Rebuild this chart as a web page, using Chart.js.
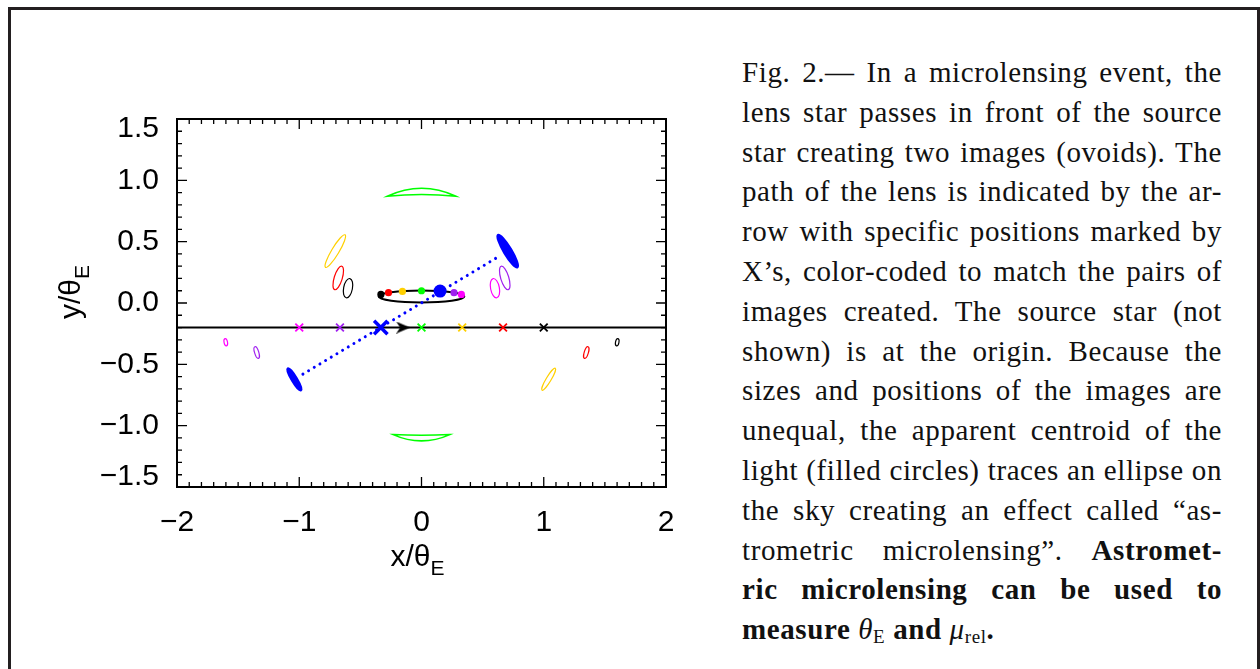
<!DOCTYPE html>
<html>
<head>
<meta charset="utf-8">
<script src="https://cdn.jsdelivr.net/npm/chart.js@4.4.1/dist/chart.umd.min.js"></script>
<style>
html, body { margin: 0; padding: 0; background: #fff; }
body { width: 1260px; height: 669px; position: relative; overflow: hidden; }
#frame { position: absolute; left: 8px; top: 7px; width: 1252px; height: 700px; box-sizing: border-box;
         border: 3px solid #231f20; border-bottom: none; }
#chartBox { position: absolute; left: 0; top: 0; width: 700px; height: 669px; }
#caption { position: absolute; left: 742px; top: 53px; width: 480px; color: #111;
           font-family: 'Liberation Serif', serif; font-size: 29px; letter-spacing: 0.6px; }
#caption div { height: 39.8px; line-height: 39.8px; white-space: nowrap;
               text-align: justify; text-align-last: justify; }
#caption div.last { text-align: left; text-align-last: left; }
#caption sub { font-size: 19px; font-weight: normal; font-style: normal; vertical-align: -4px; line-height: 0; }
#caption i { font-weight: normal; }
</style>
</head>
<body>
<div id="frame"></div>
<div id="chartBox"><canvas id="lensChart" width="700" height="669"></canvas></div>
<div id="caption">
  <div>Fig. 2.— In a microlensing event, the</div>
  <div>lens star passes in front of the source</div>
  <div>star creating two images (ovoids). The</div>
  <div>path of the lens is indicated by the ar-</div>
  <div>row with specific positions marked by</div>
  <div>X’s, color-coded to match the pairs of</div>
  <div>images created. The source star (not</div>
  <div>shown) is at the origin. Because the</div>
  <div>sizes and positions of the images are</div>
  <div>unequal, the apparent centroid of the</div>
  <div>light (filled circles) traces an ellipse on</div>
  <div>the sky creating an effect called “as-</div>
  <div>trometric microlensing”. <b>Astromet-</b></div>
  <div><b>ric microlensing can be used to</b></div>
  <div class="last"><b>measure <i>θ</i><sub>E</sub> and <i>μ</i><sub>rel</sub>.</b></div>
</div>
<script>
// lens positions along its path (one per colour), in units of theta_E
var lensX = [-1, -0.667, -0.333, 0, 0.333, 0.667, 1];
var lensY = [-0.2, -0.2, -0.2, -0.2, -0.2, -0.2, -0.2];
var lensColors = ['#ff00ff', '#a020f0', '#0000ff', '#00ff00', '#ffd000', '#ff0000', '#000000'];
var currentLens = 2; // the blue one, drawn bigger / filled

// light centroid for each lens position
var centroidX = [0.326, 0.266, 0.152, 0, -0.156, -0.27, -0.332];
var centroidY = [0.07, 0.084, 0.097, 0.1, 0.094, 0.084, 0.07];

// centroid track (ellipse): centre, semi axes
var trackCenter = [0, 0.053];
var trackAxes = [0.35, 0.048];

// the two images (ovoids) of each lens position except green
var imageLens  = [0, 1, 2, 4, 5, 6, 0, 1, 2, 4, 5, 6];
var imageX     = [0.601, 0.681, 0.705, -0.705, -0.681, -0.601, -1.601, -1.348, -1.04, 1.04, 1.348, 1.601];
var imageY     = [0.121, 0.204, 0.423, 0.423, 0.204, 0.121, -0.32, -0.404, -0.622, -0.622, -0.404, -0.32];
var imageA     = [0.08, 0.10, 0.155, 0.155, 0.10, 0.08, 0.03, 0.05, 0.105, 0.105, 0.05, 0.03];
var imageB     = [0.036, 0.033, 0.032, 0.03, 0.033, 0.036, 0.014, 0.017, 0.022, 0.02, 0.017, 0.014];
var imageAngle = [-79, -73, -59, 59, 73, 79, -79, -73, -59, 59, 73, 79];

// green images are arcs: x range, y at the tips, y of outer and inner edge at the middle
var arcX0     = [-0.28, -0.232];
var arcX1     = [0.282, 0.232];
var arcEndY   = [0.87, -1.073];
var arcOuterY = [0.935, -1.124];
var arcInnerY = [0.884, -1.078];

// lens path and the dotted line through the blue images
var pathX = [-2, 2];
var pathY = [-0.2, -0.2];
var dotX = [-0.97, 0.65];
var dotY = [-0.58, 0.39];
var arrowX = [-0.15];
var arrowY = [-0.2];

var xTicks = [-2, -1, 0, 1, 2];
var yTicks = [-1.5, -1.0, -0.5, 0.0, 0.5, 1.0, 1.5];

function pts(xs, ys) {
    return xs.map(function (v, i) { return { x: v, y: ys[i] }; });
}

function arrowHead() {
    const c = document.createElement('canvas');
    c.width = 14; c.height = 12;
    const g = c.getContext('2d');
    g.fillStyle = '#000';
    g.beginPath();
    g.moveTo(14, 6); g.lineTo(0, 0); g.lineTo(4, 6); g.lineTo(0, 12);
    g.closePath(); g.fill();
    return c;
}

function minus(v) {
    return v < 0 ? '\u2212' + Math.abs(v) : String(v);
}

const shapes = {
    id: 'shapes',
    beforeDatasetsDraw(chart) {
        const { ctx, scales } = chart;
        const x = scales.x, y = scales.y;
        const ppu = (Math.abs(x.getPixelForValue(1) - x.getPixelForValue(0)) +
                     Math.abs(y.getPixelForValue(1) - y.getPixelForValue(0))) / 2;
        ctx.save();
        // centroid track
        ctx.beginPath();
        ctx.ellipse(x.getPixelForValue(trackCenter[0]), y.getPixelForValue(trackCenter[1]),
                    trackAxes[0] * ppu, trackAxes[1] * ppu, 0, 0, 2 * Math.PI);
        ctx.strokeStyle = '#000';
        ctx.lineWidth = 2;
        ctx.stroke();
        // ovoids
        for (let i = 0; i < imageX.length; i++) {
            const col = lensColors[imageLens[i]];
            ctx.beginPath();
            ctx.ellipse(x.getPixelForValue(imageX[i]), y.getPixelForValue(imageY[i]),
                        imageA[i] * ppu, imageB[i] * ppu, -imageAngle[i] * Math.PI / 180, 0, 2 * Math.PI);
            ctx.strokeStyle = col;
            if (imageLens[i] === currentLens) {
                ctx.fillStyle = col;
                ctx.fill();
                ctx.lineWidth = 2;
            } else {
                ctx.lineWidth = 1.2;
            }
            ctx.stroke();
        }
        // green arcs
        for (let i = 0; i < arcX0.length; i++) {
            const xa = x.getPixelForValue(arcX0[i]), xb = x.getPixelForValue(arcX1[i]);
            const xm = (xa + xb) / 2;
            const ye = y.getPixelForValue(arcEndY[i]);
            const yo = 2 * y.getPixelForValue(arcOuterY[i]) - ye;
            const yi = 2 * y.getPixelForValue(arcInnerY[i]) - ye;
            ctx.beginPath();
            ctx.moveTo(xa, ye);
            ctx.quadraticCurveTo(xm, yo, xb, ye);
            ctx.quadraticCurveTo(xm, yi, xa, ye);
            ctx.closePath();
            ctx.strokeStyle = lensColors[3];
            ctx.lineWidth = 1.5;
            ctx.stroke();
        }
        ctx.restore();
    },
    afterDraw(chart) {
        const { ctx, chartArea, scales } = chart;
        const { left, right, top, bottom } = chartArea;
        const x = scales.x, y = scales.y;
        ctx.save();
        ctx.strokeStyle = '#000';
        ctx.lineWidth = 2;
        ctx.strokeRect(left, top, right - left, bottom - top);
        // inward ticks on all four sides
        ctx.lineWidth = 1.3;
        ctx.beginPath();
        for (let k = -20; k <= 20; k++) {
            const px = x.getPixelForValue(k / 10);
            const len = k % 10 === 0 ? 10 : 5;
            ctx.moveTo(px, bottom); ctx.lineTo(px, bottom - len);
            ctx.moveTo(px, top); ctx.lineTo(px, top + len);
        }
        for (let k = -15; k <= 15; k++) {
            const py = y.getPixelForValue(k / 10);
            const len = k % 5 === 0 ? 10 : 5;
            ctx.moveTo(left, py); ctx.lineTo(left + len, py);
            ctx.moveTo(right, py); ctx.lineTo(right - len, py);
        }
        ctx.stroke();
        // axis titles
        ctx.fillStyle = '#000';
        ctx.textBaseline = 'alphabetic';
        const main = 'x/\u03b8';
        ctx.font = '30px "Liberation Sans", Arial, sans-serif';
        const wMain = ctx.measureText(main).width;
        ctx.font = '21px "Liberation Sans", Arial, sans-serif';
        const wSub = ctx.measureText('E').width;
        let sx = (left + right) / 2 - 4 - (wMain + wSub) / 2;
        ctx.font = '30px "Liberation Sans", Arial, sans-serif';
        ctx.fillText(main, sx, 566);
        ctx.font = '21px "Liberation Sans", Arial, sans-serif';
        ctx.fillText('E', sx + wMain, 575);
        // y title, rotated
        ctx.translate(80, 292);
        ctx.rotate(-Math.PI / 2);
        ctx.font = '30px "Liberation Sans", Arial, sans-serif';
        const yMain = 'y/\u03b8';
        const wy = ctx.measureText(yMain).width;
        sx = -(wy + wSub) / 2;
        ctx.fillText(yMain, sx, 0);
        ctx.font = '21px "Liberation Sans", Arial, sans-serif';
        ctx.fillText('E', sx + wy, 9);
        ctx.restore();
    }
};

const config = {
    type: 'scatter',
    data: {
        datasets: [{
            data: pts(centroidX, centroidY),
            pointStyle: 'circle',
            pointRadius: centroidX.map(function (v, i) { return i === currentLens ? 6.5 : 3.6; }),
            pointBackgroundColor: lensColors,
            pointBorderWidth: 0,
            order: 1
        }, {
            data: pts(arrowX, arrowY),
            pointStyle: arrowHead(),
            order: 2
        }, {
            data: pts(lensX, lensY),
            pointStyle: 'crossRot',
            pointRadius: lensX.map(function (v, i) { return i === currentLens ? 9.5 : 5.5; }),
            pointBorderWidth: lensX.map(function (v, i) { return i === currentLens ? 3.5 : 1.8; }),
            pointBorderColor: lensColors,
            order: 3
        }, {
            data: pts(dotX, dotY),
            showLine: true,
            borderColor: '#0000ff',
            borderWidth: 3,
            borderDash: [0.01, 6.6],
            borderCapStyle: 'round',
            pointRadius: 0,
            order: 4
        }, {
            data: pts(pathX, pathY),
            showLine: true,
            borderColor: '#000',
            borderWidth: 2,
            pointRadius: 0,
            order: 5
        }]
    },
    options: {
        responsive: false,
        animation: false,
        events: [],
        layout: { padding: { left: 0, top: 119, right: 34, bottom: 132 } },
        plugins: { legend: { display: false }, tooltip: { enabled: false } },
        scales: {
            x: {
                type: 'linear', min: -2, max: 2,
                afterFit: function (s) { s.height = 50; },
                afterBuildTicks: function (s) { s.ticks = xTicks.map(function (v) { return { value: v }; }); },
                grid: { display: false },
                border: { display: false },
                ticks: {
                    padding: 10, color: '#000',
                    font: { family: '"Liberation Sans", Arial, sans-serif', size: 30 },
                    callback: function (v) { return minus(v); }
                }
            },
            y: {
                type: 'linear', min: -1.5, max: 1.5,
                afterFit: function (s) { s.width = 177; },
                afterBuildTicks: function (s) { s.ticks = yTicks.map(function (v) { return { value: v }; }); },
                grid: { display: false },
                border: { display: false },
                ticks: {
                    padding: 10, color: '#000',
                    font: { family: '"Liberation Sans", Arial, sans-serif', size: 30, lineHeight: 0.667 },
                    callback: function (v) {
                        const s = (v < 0 ? '\u2212' : '') + Math.abs(v).toFixed(1);
                        if (Math.abs(v - 1.5) < 1e-6) return ['', s];
                        if (Math.abs(v + 1.5) < 1e-6) return [s, ''];
                        return s;
                    }
                }
            }
        }
    },
    plugins: [shapes]
};

const lensChart = new Chart(document.getElementById('lensChart'), config);
</script>
</body>
</html>
